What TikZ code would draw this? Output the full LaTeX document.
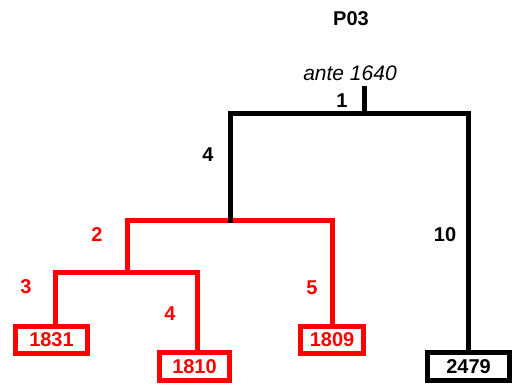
\documentclass[tikz,border=0pt]{standalone}
\usepackage{fontspec}
\setmainfont{Liberation Sans}

\newcommand{\treeLineWidth}{5pt}
\newcommand{\labelFont}{\fontsize{20}{24}\selectfont\bfseries}

\tikzset{
  branch/.style={line width=\treeLineWidth, line join=miter},
  leafbox/.style={draw, line width=\treeLineWidth, inner sep=0pt, minimum height=27pt, font=\labelFont},
  weight/.style={font=\labelFont}
}

\begin{document}
\begin{tikzpicture}[x=1pt,y=-1pt]
        \useasboundingbox (0,0) rectangle (518,385);

        % Title and date
        \node[weight] (title) at (351,19) {P03};
        \node[font=\fontsize{21}{24}\selectfont\itshape] (date) at (350,73) {ante 1640};

        % Leaves
        \node[leafbox, red, minimum width=72pt] (n1831) at (51.5,340) {1831};
        \node[leafbox, red, minimum width=70pt, minimum height=28pt] (n1810) at (194.5,366.5) {1810};
        \node[leafbox, red, minimum width=63pt] (n1809) at (332,340) {1809};
        \node[leafbox, minimum width=82pt, minimum height=28pt] (n2479) at (468.5,366.5) {2479};

        % Junctions
        \coordinate (root) at (364.5,86);
        \coordinate (rootSplit) at (364.5,113.5);
        \coordinate (redSplit) at (230.5,220);
        \coordinate (subSplit) at (127.5,272.5);

        % Draw red subtree
        \draw[branch, red] ([xshift=4pt]n1831.north) |- (subSplit) -| ([xshift=3pt]n1810.north);
        \draw[branch, red] (subSplit) |- (redSplit) -| (n1809.north);

        % Draw black tree
        \draw[branch] ([yshift=-2.5pt]redSplit) |- (rootSplit) -| (n2479.north);
        \draw[branch] (root) -- (rootSplit);

        % Branch weights
        \node[weight] (w1) at (342,101) {1};
        \node[weight] (w4) at (208,155) {4};
        \node[weight] (w10) at (445,235) {10};
        \node[weight, red] (w2) at (97,235) {2};
        \node[weight, red] (w3) at (26,287) {3};
        \node[weight, red] (w4b) at (170,314) {4};
        \node[weight, red] (w5) at (312,288) {5};
    \end{tikzpicture}
\end{document}
